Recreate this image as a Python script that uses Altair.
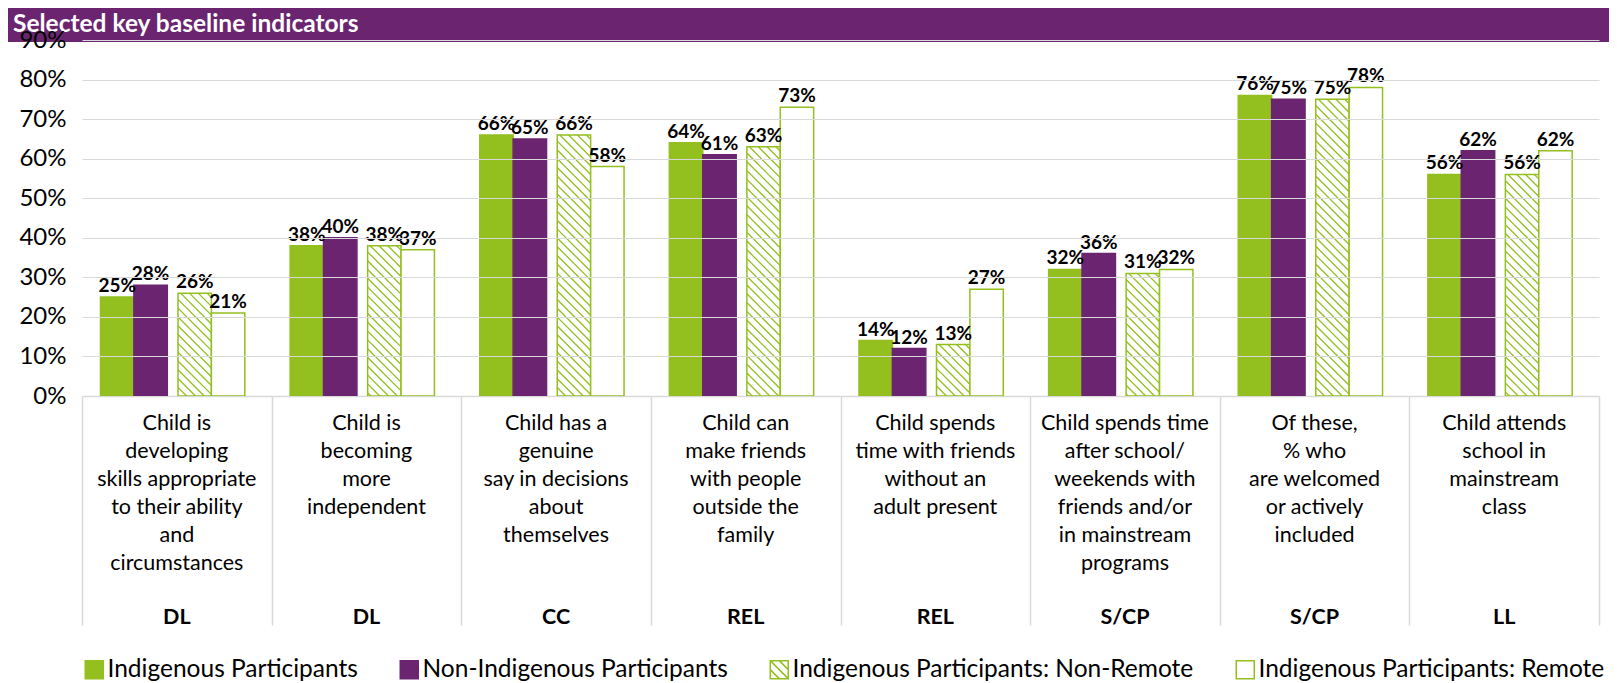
import altair as alt
import pandas as pd

# ---------------- data ----------------
TITLE = "Selected key baseline indicators"
categories = [
    "Child is\ndeveloping\nskills appropriate\nto their ability\nand\ncircumstances",
    "Child is\nbecoming\nmore\nindependent",
    "Child has a\ngenuine\nsay in decisions\nabout\nthemselves",
    "Child can\nmake friends\nwith people\noutside the\nfamily",
    "Child spends\ntime with friends\nwithout an\nadult present",
    "Child spends time\nafter school/\nweekends with\nfriends and/or\nin mainstream\nprograms",
    "Of these,\n% who\nare welcomed\nor actively\nincluded",
    "Child attends\nschool in\nmainstream\nclass",
]
domains = ["DL", "DL", "CC", "REL", "REL", "S/CP", "S/CP", "LL"]
series = [
    "Indigenous Participants",
    "Non-Indigenous Participants",
    "Indigenous Participants: Non-Remote",
    "Indigenous Participants: Remote",
]
indigenous = [25, 38, 66, 64, 14, 32, 76, 56]
non_indigenous = [28, 40, 65, 61, 12, 36, 75, 62]
non_remote = [26, 38, 66, 63, 13, 31, 75, 56]
remote = [21, 37, 58, 73, 27, 32, 78, 62]
y_ticks = [0, 10, 20, 30, 40, 50, 60, 70, 80, 90]

# ---------------- style / layout ----------------
GREEN = "#93BF1F"
PURPLE = "#6B2570"
GRID = "#D9D9D9"
FONT = "Lato"
W, H = 1517, 356
YMAX = 90
BW = 33.4                      # bar width in px
G1_START = 18.5                # start of first pair inside a category band
G2_START = 96.0                # start of second pair inside a category band
HATCH_STEP = 8.8

values_by_series = [indigenous, non_indigenous, non_remote, remote]
rows = []
for si, (s, vals) in enumerate(zip(series, values_by_series)):
    for ci, (c, v) in enumerate(zip(categories, vals)):
        rows.append({"category": c, "series": s, "value": v, "pair": 1 if si < 2 else 2})
df = pd.DataFrame(rows)


def hatch_path(v):
    h = v / YMAX * H
    w = BW
    parts = []
    k = -w + HATCH_STEP / 2
    while k < h:
        x1 = max(0.0, -k)
        x2 = min(w, h - k)
        if x2 > x1 + 0.5:
            parts.append(f"M{x1 - w/2:.2f},{x1 + k:.2f}L{x2 - w/2:.2f},{x2 + k:.2f}")
        k += HATCH_STEP
    return "".join(parts)


df["hatch"] = [hatch_path(v) if s == series[2] else "" for s, v in zip(df["series"], df["value"])]
df1 = df[df["pair"] == 1]
df2 = df[df["pair"] == 2]

# legend hatch symbol (unit square with diagonals)
LEGEND_HATCH = "M-1,-1H1V1H-1ZM0,-1L1,0M-1,-1L1,1M-1,0L0,1"

fill_scale = alt.Scale(domain=series, range=[GREEN, PURPLE, "white", "white"])
stroke_scale = alt.Scale(domain=series, range=[GREEN, PURPLE, GREEN, GREEN])
shape_scale = alt.Scale(domain=series, range=["square", "square", LEGEND_HATCH, "square"])

leg = alt.Legend(orient="none", legendX=0, legendY=H + 261, direction="horizontal",
                 title=None, symbolSize=324, symbolStrokeWidth=1.5, labelFont=FONT,
                 labelFontSize=24.5, labelColor="black", labelOffset=1,
                 columnPadding=39, symbolOpacity=1, labelLimit=0)

x_enc = alt.X(
    "category:N",
    sort=categories,
    scale=alt.Scale(domain=categories, paddingInner=0, paddingOuter=0),
    axis=alt.Axis(labels=False, title=None, domainColor=GRID, domainWidth=1.5,
                  ticks=True, tickBand="extent", tickSize=229, tickColor=GRID,
                  tickWidth=1.5, grid=False),
)
y_enc = alt.Y(
    "value:Q",
    scale=alt.Scale(domain=[0, YMAX], nice=False),
    axis=alt.Axis(values=y_ticks, labelExpr="datum.value + '%'", grid=True,
                  gridColor=GRID, gridWidth=1.2, domain=False, ticks=False,
                  labelFont=FONT, labelFontSize=24, labelColor="black",
                  labelPadding=16, title=None, zindex=1),
)


def pair_layers(data, doms, start, hatched):
    xo = alt.XOffset("series:N", sort=doms,
                     scale=alt.Scale(domain=doms, range=[start, start + 2 * BW],
                                     paddingInner=0, paddingOuter=0))
    base = alt.Chart(data).encode(x=x_enc, xOffset=xo, y=y_enc)
    bars = base.mark_bar(strokeWidth=1.5).encode(
        fill=alt.Fill("series:N", scale=fill_scale, legend=leg, sort=series),
        stroke=alt.Stroke("series:N", scale=stroke_scale, legend=leg, sort=series),
    )
    labels = base.transform_calculate(lab="datum.value + '%'").mark_text(
        font=FONT, fontWeight="bold", fontSize=19, dy=-5, baseline="alphabetic",
        color="black"
    ).encode(text="lab:N")
    layers = [bars]
    if hatched:
        hatch = base.transform_filter("datum.hatch != ''").mark_point(
            filled=False, size=4, strokeWidth=1.3, color=GREEN, opacity=1
        ).encode(shape=alt.Shape("hatch:N", scale=None, legend=None))
        layers.append(hatch)
    layers.append(labels)
    return alt.layer(*layers)


g1 = pair_layers(df1, series[:2], G1_START, False)
g2 = pair_layers(df2, series[2:], G2_START, True)

title_df = pd.DataFrame({"t": [TITLE]})
title_bar = alt.Chart(title_df).mark_rect(color=PURPLE).encode(
    x=alt.value(-74), x2=alt.value(1527), y=alt.value(-40), y2=alt.value(2)
)
title_txt = alt.Chart(title_df).mark_text(
    font=FONT, fontWeight="bold", fontSize=24.5, color="white",
    align="left", baseline="alphabetic"
).encode(x=alt.value(-69), y=alt.value(-8), text="t:N")

cat_df = pd.DataFrame({"category": categories, "domain": domains})
cat_txt = alt.Chart(cat_df).mark_text(
    font=FONT, fontSize=21.5, lineBreak="\n", lineHeight=28, align="center",
    baseline="alphabetic", color="black"
).encode(x=alt.X("category:N", sort=categories), y=alt.value(H + 33.5), text="category:N")
dom_txt = alt.Chart(cat_df).mark_text(
    font=FONT, fontSize=21.5, fontWeight="bold", align="center",
    baseline="alphabetic", color="black"
).encode(x=alt.X("category:N", sort=categories), y=alt.value(H + 228), text="domain:N")

legend_df = pd.DataFrame({"series": series})
legend_layer = alt.Chart(legend_df).mark_point(opacity=0, filled=True).encode(
    x=alt.value(0), y=alt.value(0),
    fill=alt.Fill("series:N", scale=fill_scale, legend=leg, sort=series),
    stroke=alt.Stroke("series:N", scale=stroke_scale, legend=leg, sort=series),
    shape=alt.Shape("series:N", scale=shape_scale, legend=leg, sort=series),
)

chart = alt.layer(
    g1, g2, title_bar, title_txt, cat_txt, dom_txt, legend_layer
).resolve_scale(xOffset="independent").properties(
    width=W, height=H,
    autosize=alt.AutoSizeParams(type="none"),
    padding={"left": 74, "top": 32, "right": 10, "bottom": 287},
).configure_view(strokeWidth=0)

chart.save("out.html", embed_options={"renderer": "svg", "actions": False})
